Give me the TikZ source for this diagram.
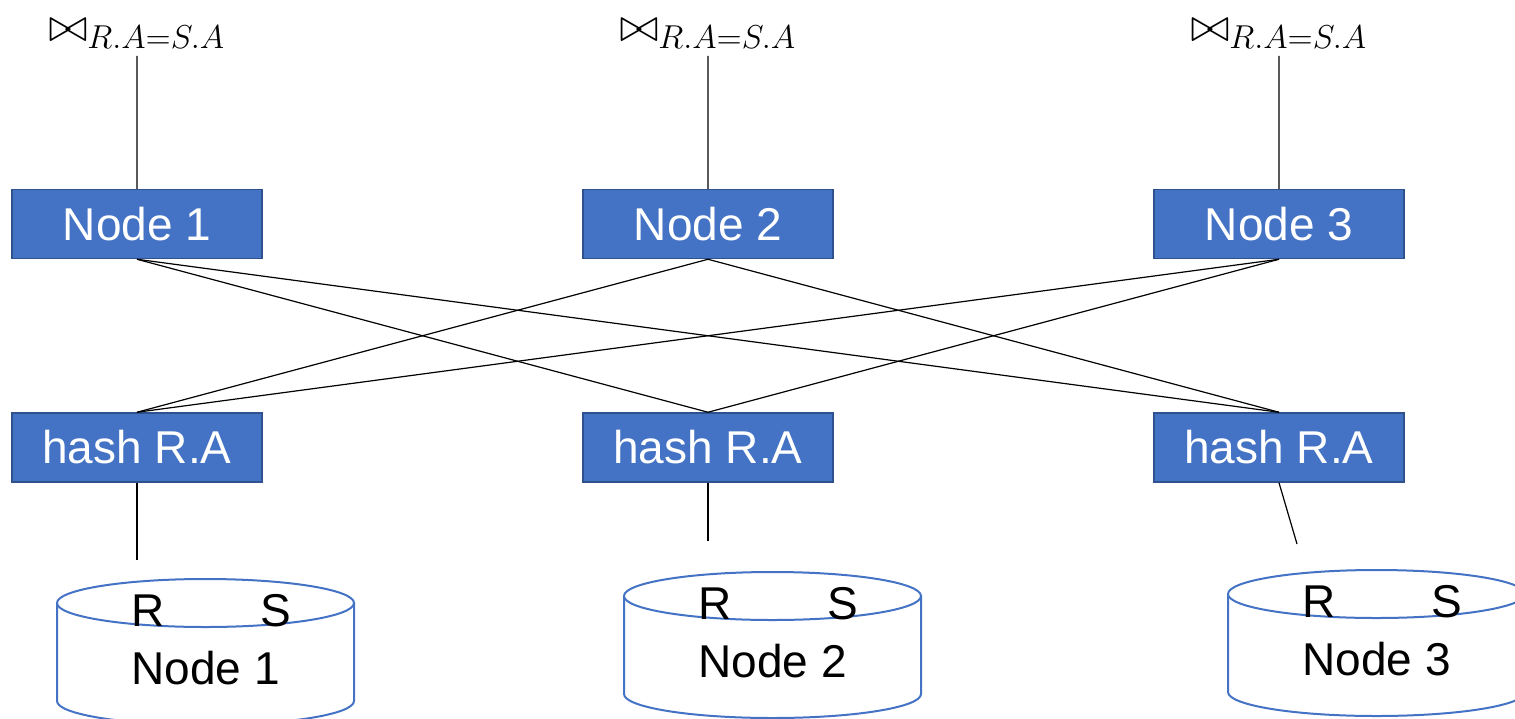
\documentclass[tikz,border=0pt]{standalone}
\usepackage{fontspec}
\setmainfont{Liberation Sans}
\usetikzlibrary{positioning}
\definecolor{opblue}{HTML}{4472C4}
\definecolor{opedge}{HTML}{2F528F}

\begin{document}
\begin{tikzpicture}[x=0.5pt, y=-0.5pt,
    op/.style={fill=opblue, draw=opedge, line width=0.75pt, text=white,
               font=\fontsize{23}{27}\selectfont, inner sep=0pt,
               minimum width=125pt, minimum height=34.5pt},
    joinlbl/.style={font=\fontsize{20.74}{25}\selectfont, inner sep=0pt,
                    outer sep=3pt, scale=1.15, transform shape},
    wire/.style={black, line width=0.6pt},
    disk/.style={draw=opblue, line width=1pt, fill=white},
    disklbl/.style={font=\fontsize{23}{27}\selectfont, inner sep=0pt},
  ]
  \useasboundingbox (0,0) rectangle (1515,718);

  % operators
  \node[op] (n1) at (137,224)  {Node 1};
  \node[op] (n2) at (708,224)  {Node 2};
  \node[op] (n3) at (1279,224) {Node 3};
  \node[op, below=76.5pt of n1] (h1) {hash R.A};
  \node[op, below=76.5pt of n2] (h2) {hash R.A};
  \node[op, below=76.5pt of n3] (h3) {hash R.A};
  \node[joinlbl, above=66.5pt of n1] (j1) {$\bowtie_{R.A=S.A}$};
  \node[joinlbl, above=66.5pt of n2] (j2) {$\bowtie_{R.A=S.A}$};
  \node[joinlbl, above=66.5pt of n3] (j3) {$\bowtie_{R.A=S.A}$};

  % disks
  \foreach \cx/\ty/\i in {205.5/603/1, 772.5/596/2, 1376.5/594/3} {
    \draw[disk] (\cx-148.5,\ty) -- (\cx-148.5,\ty+98)
      arc[start angle=180, end angle=0, x radius=148.5, y radius=24]
      -- (\cx+148.5,\ty) -- cycle;
    \draw[disk] (\cx,\ty) ellipse[x radius=148.5, y radius=24];
    \node[disklbl] (r\i) at (\cx-57,\ty+8)  {R};
    \node[disklbl] (s\i) at (\cx+70,\ty+8)  {S};
    \node[disklbl] (d\i) at (\cx,\ty+65)   {Node \i};
  }
  \coordinate (e1) at (137,560);
  \coordinate (e2) at (708,541);
  \coordinate (e3) at (1297,544);

  % wires
  \foreach \i in {1,2,3} {
    \draw[wire] (j\i) -- (n\i);
    \draw[wire] (h\i.south) -- (e\i);
  }
  \foreach \a/\b in {1/2, 1/3, 2/1, 2/3, 3/1, 3/2}
    \draw[wire] (n\a.south) -- (h\b.north);
\end{tikzpicture}
\end{document}
